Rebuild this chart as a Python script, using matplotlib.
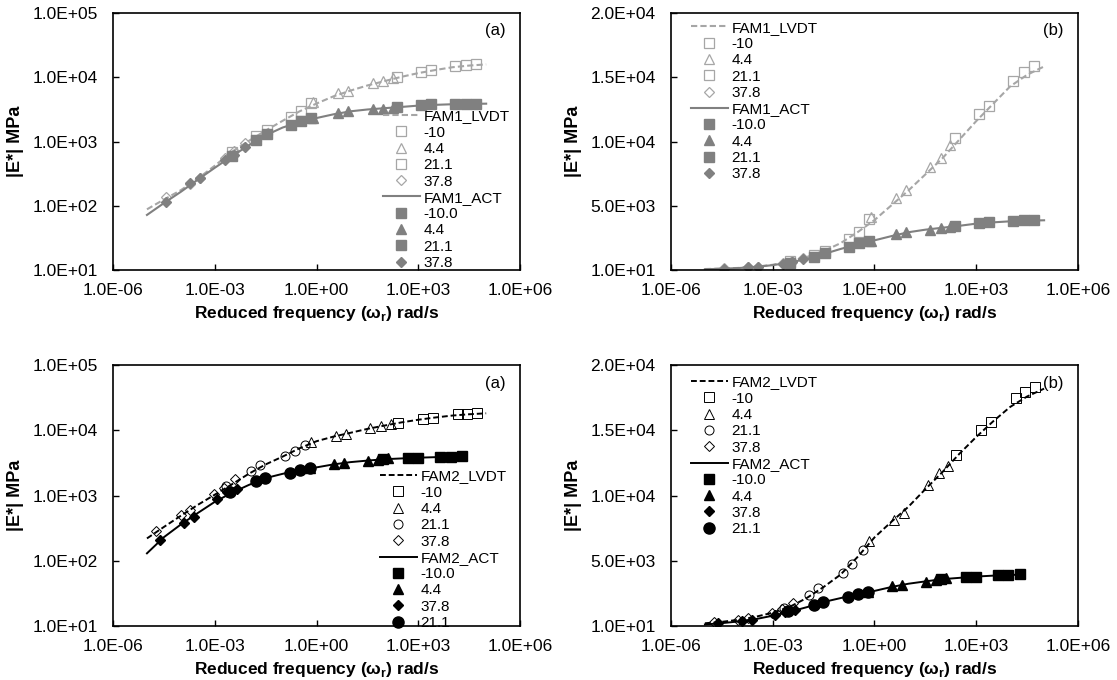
import numpy as np
import matplotlib.pyplot as plt
from matplotlib.ticker import NullLocator

plt.rcParams['font.family'] = ['Liberation Sans', 'DejaVu Sans']
plt.rcParams['mathtext.fontset'] = 'custom'
plt.rcParams['mathtext.bf'] = 'Liberation Sans:bold'
plt.rcParams['mathtext.rm'] = 'Liberation Sans'

# x values are log10 of reduced frequency (rad/s)
xticks = [1e-6, 1e-3, 1e0, 1e3, 1e6]
xtick_labels = ['1.0E-06', '1.0E-03', '1.0E+00', '1.0E+03', '1.0E+06']
log_yticks = [1e1, 1e2, 1e3, 1e4, 1e5]
log_ytick_labels = ['1.0E+01', '1.0E+02', '1.0E+03', '1.0E+04', '1.0E+05']
lin_yticks = [10, 5010, 10010, 15010, 20010]
lin_ytick_labels = ['1.0E+01', '5.0E+03', '1.0E+04', '1.5E+04', '2.0E+04']

# fitted master curves
curve_logw = [-5.0, -4.5, -4.0, -3.5, -3.0, -2.5, -2.0, -1.5, -1.0, -0.5, 0.0,
              0.5, 1.0, 1.5, 2.0, 2.5, 3.0, 3.5, 4.0, 4.5, 5.0]
fam1_lvdt_curve = [88, 125, 175, 265, 420, 690, 1020, 1480, 2100, 2950, 3900,
                   5050, 6200, 7450, 8700, 10150, 11600, 12950, 14300, 15200, 15850]
fam1_act_curve = [72, 110, 165, 255, 390, 590, 870, 1250, 1650, 2000, 2320,
                  2650, 2950, 3150, 3300, 3450, 3620, 3720, 3800, 3850, 3880]
fam2_lvdt_curve = [220, 330, 490, 720, 1030, 1480, 2150, 3000, 3950, 5300, 6800,
                   8000, 9150, 10500, 11800, 13200, 14500, 15700, 16800, 17600, 18200]
act2_logw = [-5.0, -4.5, -4.0, -3.5, -3.0, -2.5, -2.0, -1.5, -1.0, -0.5, 0.0,
             0.5, 1.0, 1.5, 2.0, 2.5, 3.0, 3.5, 4.0, 4.3]
fam2_act_curve = [130, 230, 360, 540, 800, 1100, 1450, 1850, 2150, 2450, 2700,
                  3000, 3250, 3430, 3600, 3700, 3800, 3870, 3920, 3950]

# FAM1 measured points
f1_lvdt_m10_w = [2.38, 3.08, 3.38, 4.09, 4.41, 4.70]
f1_lvdt_m10 = [10250, 12150, 12800, 14750, 15450, 15850]
f1_lvdt_44_w = [-0.10, 0.63, 0.93, 1.65, 1.95, 2.24]
f1_lvdt_44 = [4100, 5600, 6200, 8000, 8750, 9700]
f1_lvdt_211_w = [-2.50, -1.78, -1.47, -0.76, -0.47, -0.17]
f1_lvdt_211 = [690, 1200, 1520, 2430, 3000, 4000]
f1_lvdt_378_w = [-4.44, -3.72, -3.43, -2.71, -2.43, -2.11]
f1_lvdt_378 = [135, 215, 270, 560, 710, 950]

f1_act_m10_w = [2.38, 3.08, 3.38, 4.09, 4.41, 4.70]
f1_act_m10 = [3450, 3700, 3780, 3850, 3870, 3880]
f1_act_44_w = [-0.10, 0.63, 0.93, 1.65, 1.95, 2.24]
f1_act_44 = [2300, 2780, 3000, 3150, 3250, 3350]
f1_act_211_w = [-2.50, -1.78, -1.47, -0.76, -0.47, -0.17]
f1_act_211 = [590, 1040, 1300, 1820, 2100, 2300]
f1_act_378_w = [-4.44, -3.72, -3.43, -2.71, -2.43, -2.11]
f1_act_378 = [113, 228, 266, 510, 615, 830]

# FAM2 measured points
f2_lvdt_m10_w = [2.40, 3.14, 3.44, 4.16, 4.44, 4.74]
f2_lvdt_m10 = [13100, 15050, 15650, 17500, 17950, 18300]
f2_lvdt_44_w = [-0.17, 0.58, 0.88, 1.59, 1.89, 2.18]
f2_lvdt_44 = [6550, 8150, 8700, 10850, 11700, 12300]
f2_lvdt_211_w = [-2.67, -1.93, -1.66, -0.93, -0.65, -0.35]
f2_lvdt_211 = [1400, 2400, 2900, 4050, 4750, 5850]
f2_lvdt_378_w = [-4.73, -4.01, -3.74, -3.01, -2.73, -2.41]
f2_lvdt_378 = [290, 500, 600, 1040, 1320, 1780]

f2_act_m10_w = [1.97, 2.70, 2.99, 3.65, 3.95, 4.30]
f2_act_m10 = [3650, 3780, 3800, 3900, 3950, 4000]
f2_act_44_w = [-0.20, 0.52, 0.82, 1.53, 1.80, 2.10]
f2_act_44 = [2650, 3050, 3150, 3400, 3550, 3700]
f2_act_378_w = [-4.61, -3.92, -3.62, -2.93, -2.65, -2.34]
f2_act_378 = [210, 380, 470, 880, 1120, 1250]
f2_act_211_w = [-2.54, -1.78, -1.51, -0.79, -0.50, -0.20]
f2_act_211 = [1150, 1650, 1850, 2250, 2450, 2650]


def w(v):
    return np.power(10.0, v)


def draw_fam1(ax):
    lc, ac = '#a6a6a6', '#808080'
    ax.plot(w(curve_logw), fam1_lvdt_curve, ls=(0, (3, 1.5)), color=lc, lw=1.5, label='FAM1_LVDT')
    ax.plot(w(f1_lvdt_m10_w), f1_lvdt_m10, 's', ms=7, mfc='none', mec=lc, mew=0.9, label='-10')
    ax.plot(w(f1_lvdt_44_w), f1_lvdt_44, '^', ms=7.5, mfc='none', mec=lc, mew=0.9, label='4.4')
    ax.plot(w(f1_lvdt_211_w), f1_lvdt_211, 's', ms=7, mfc='none', mec=lc, mew=0.9, label='21.1')
    ax.plot(w(f1_lvdt_378_w), f1_lvdt_378, 'D', ms=5.5, mfc='none', mec=lc, mew=0.9, label='37.8')
    ax.plot(w(curve_logw), fam1_act_curve, '-', color=ac, lw=1.5, label='FAM1_ACT')
    ax.plot(w(f1_act_m10_w), f1_act_m10, 's', ms=6.5, color=ac, label='-10.0')
    ax.plot(w(f1_act_44_w), f1_act_44, '^', ms=7, color=ac, label='4.4')
    ax.plot(w(f1_act_211_w), f1_act_211, 's', ms=6.5, color=ac, label='21.1')
    ax.plot(w(f1_act_378_w), f1_act_378, 'D', ms=5, color=ac, label='37.8')


def draw_fam2(ax):
    c = 'black'
    ax.plot(w(curve_logw), fam2_lvdt_curve, ls=(0, (3, 1.5)), color=c, lw=1.4, label='FAM2_LVDT')
    ax.plot(w(f2_lvdt_m10_w), f2_lvdt_m10, 's', ms=6.5, mfc='none', mec=c, mew=0.7, label='-10')
    ax.plot(w(f2_lvdt_44_w), f2_lvdt_44, '^', ms=7, mfc='none', mec=c, mew=0.7, label='4.4')
    ax.plot(w(f2_lvdt_211_w), f2_lvdt_211, 'o', ms=6.5, mfc='none', mec=c, mew=0.7, label='21.1')
    ax.plot(w(f2_lvdt_378_w), f2_lvdt_378, 'D', ms=5, mfc='none', mec=c, mew=0.7, label='37.8')
    ax.plot(w(act2_logw), fam2_act_curve, '-', color=c, lw=1.4, label='FAM2_ACT')
    ax.plot(w(f2_act_m10_w), f2_act_m10, 's', ms=6.5, color=c, label='-10.0')
    ax.plot(w(f2_act_44_w), f2_act_44, '^', ms=7.5, color=c, label='4.4')
    ax.plot(w(f2_act_378_w), f2_act_378, 'D', ms=5.5, color=c, label='37.8')
    ax.plot(w(f2_act_211_w), f2_act_211, 'o', ms=8, color=c, label='21.1')


def style(ax, log_y, tag, leg_anchor):
    ax.set_xscale('log')
    ax.set_xlim(1e-6, 1e6)
    ax.set_xticks(xticks)
    ax.set_xticklabels(xtick_labels)
    ax.xaxis.set_minor_locator(NullLocator())
    if log_y:
        ax.set_yscale('log')
        ax.set_ylim(1e1, 1e5)
        ax.set_yticks(log_yticks)
        ax.set_yticklabels(log_ytick_labels)
        ax.yaxis.set_minor_locator(NullLocator())
    else:
        ax.set_ylim(10, 20010)
        ax.set_yticks(lin_yticks)
        ax.set_yticklabels(lin_ytick_labels)
    ax.tick_params(direction='in', length=4, width=1, labelsize=12.5)
    ax.tick_params(axis='x', pad=9)
    ax.tick_params(axis='y', pad=11)
    for s in ax.spines.values():
        s.set_linewidth(1.2)
    ax.set_xlabel('Reduced frequency (ω$_\\mathbf{r}$) rad/s', fontsize=12.5, fontweight='bold', labelpad=5)
    ax.set_ylabel('|E*| MPa', fontsize=13, fontweight='bold', labelpad=6)
    ax.text(0.965, 0.93, tag, transform=ax.transAxes, ha='right', va='center', fontsize=12)
    ax.legend(loc='upper left', bbox_to_anchor=leg_anchor, frameon=False, fontsize=11,
              numpoints=1, handlelength=2.4, handletextpad=0.25, labelspacing=0.15,
              borderpad=0, borderaxespad=0)


fig = plt.figure(figsize=(11.17, 6.8), dpi=100)
ax1 = fig.add_axes([0.1012, 0.6029, 0.3644, 0.378])
ax2 = fig.add_axes([0.6007, 0.6029, 0.3644, 0.378])
ax3 = fig.add_axes([0.1012, 0.0794, 0.3644, 0.3838])
ax4 = fig.add_axes([0.6007, 0.0794, 0.3644, 0.3838])

draw_fam1(ax1)
style(ax1, True, '(a)', (0.663, 0.625))
draw_fam1(ax2)
style(ax2, False, '(b)', (0.049, 0.97))
draw_fam2(ax3)
style(ax3, True, '(a)', (0.656, 0.6))
draw_fam2(ax4)
style(ax4, False, '(b)', (0.049, 0.96))

fig.savefig('out.png', dpi=100)
